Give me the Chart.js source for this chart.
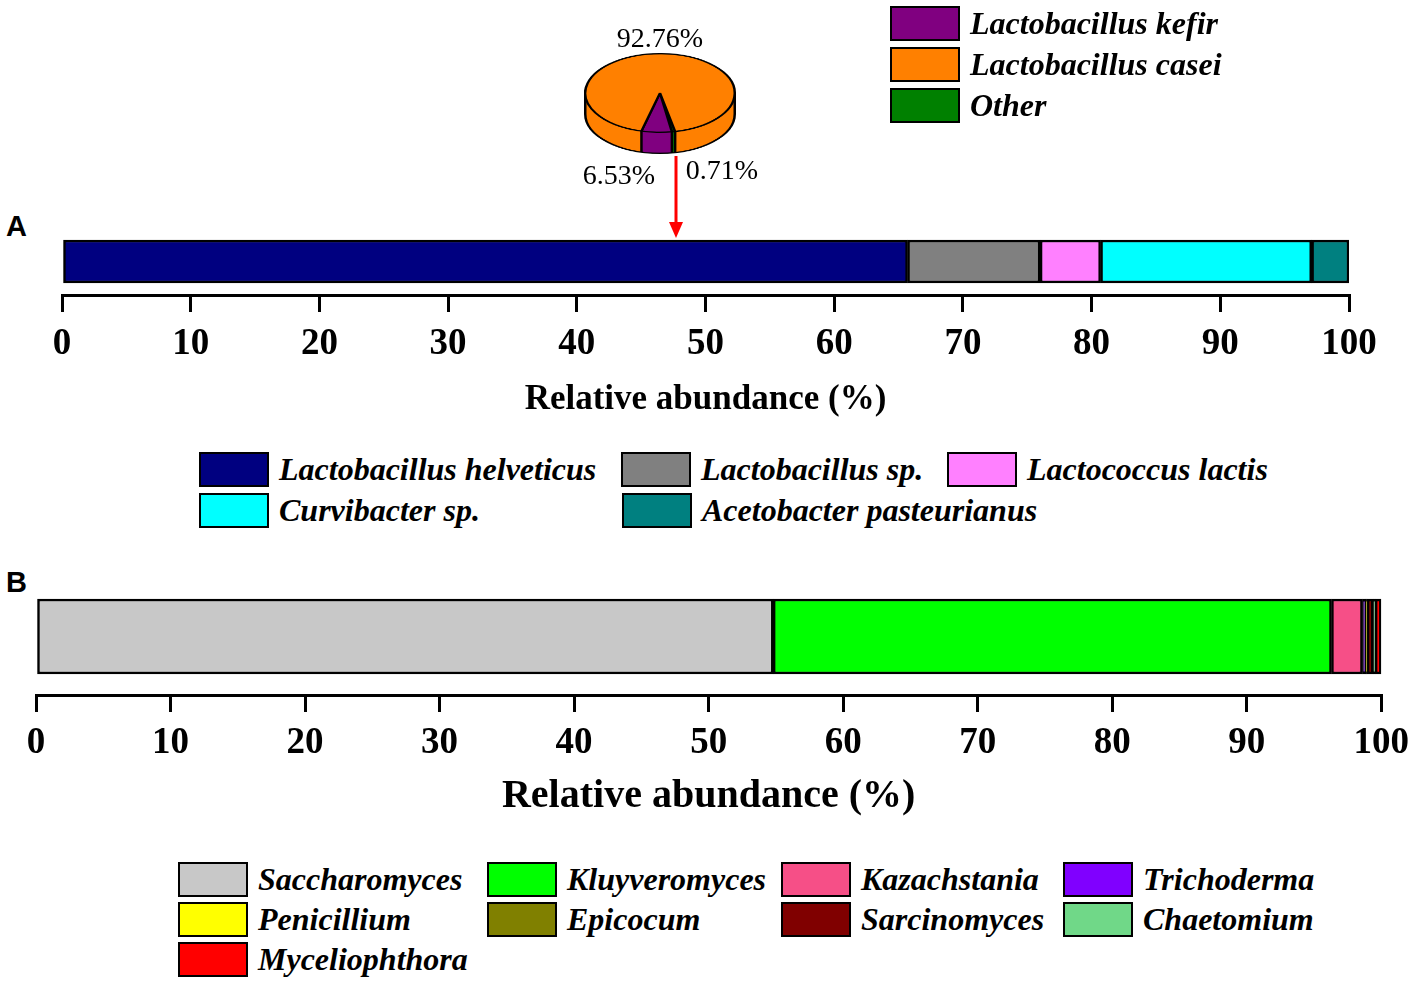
<!DOCTYPE html>
<html>
<head>
<meta charset="utf-8">
<script src="https://cdn.jsdelivr.net/npm/chart.js@4.4.0/dist/chart.umd.min.js"></script>
<style>
  body { margin: 0; background: #fff; }
  #page { position: relative; width: 1418px; height: 984px; overflow: hidden; background: #fff; }
  .box { position: absolute; }
  .panel { position: absolute; font: bold 29px 'Liberation Sans', Arial, sans-serif; }
  .pct { position: absolute; font: 28px 'Liberation Serif', 'Times New Roman', serif; transform: translate(-50%, -50%); white-space: nowrap; }
  .key { position: absolute; width: 66px; height: 31px; border: 2px solid #000; }
  .keytext { position: absolute; font: italic bold 32px 'Liberation Serif', 'Times New Roman', serif; line-height: 35px; white-space: nowrap; }
</style>
</head>
<body>
<div id="page">
  <div class="panel" style="left:6px; top:210px;">A</div>
  <div class="panel" style="left:6px; top:566px;">B</div>
  <div class="box" style="left:0; top:200px; width:1418px; height:225px;"><canvas id="chartA"></canvas></div>
  <div class="box" style="left:0; top:560px; width:1418px; height:265px;"><canvas id="chartB"></canvas></div>
  <div class="box" id="pieBox" style="left:584px; top:53px; width:152px; height:192px; transform: scaleY(0.526); transform-origin: 0 0;"><canvas id="pie"></canvas></div>
  <svg class="box" style="left:0; top:0;" width="1418" height="260">
    <line x1="676" y1="156" x2="676" y2="224" stroke="#ff0000" stroke-width="3"/>
    <polygon points="669,222 683,222 676,238" fill="#ff0000"/>
  </svg>
  <div id="legends"></div>
</div>
<script>
// bacteria (panel A)
const bacteriaLabels = ['Lactobacillus helveticus', 'Lactobacillus sp.', 'Lactococcus lactis', 'Curvibacter sp.', 'Acetobacter pasteurianus'];
const bacteriaValues = [65.7, 10.3, 4.7, 16.4, 2.9];
const bacteriaColors = ['#000080', '#808080', '#ff80ff', '#00ffff', '#008080'];

// fungi (panel B)
const fungiLabels = ['Saccharomyces', 'Kluyveromyces', 'Kazachstania', 'Trichoderma', 'Penicillium', 'Epicocum', 'Sarcinomyces', 'Chaetomium', 'Myceliophthora'];
const fungiValues = [54.8, 41.5, 2.3, 0.25, 0.05, 0.05, 0.45, 0.15, 0.45];
const fungiColors = ['#c8c8c8', '#00ff00', '#f64f87', '#8000ff', '#ffff00', '#808000', '#800000', '#70d888', '#ff0000'];

// Lactobacillus sp. breakdown (pie)
const pieLabels = ['Other', 'Lactobacillus kefir', 'Lactobacillus casei'];
const pieValues = [0.71, 6.53, 92.76];
const pieColors = ['#008000', '#800080', '#ff8000'];
const pieLegendOrder = ['Lactobacillus kefir', 'Lactobacillus casei', 'Other'];

const axisMin = 0;
const axisMax = 100;
const axisStep = 10;
const axisTitle = 'Relative abundance (%)';

const serif = "'Liberation Serif', 'Times New Roman', serif";
Chart.defaults.font.family = serif;
Chart.defaults.color = '#000';

// one stacked horizontal bar
function drawBar(id, labels, values, colors, opts) {
    const datasets = labels.map((name, i) => ({
        label: name,
        data: [values[i]],
        backgroundColor: colors[i],
        borderColor: '#000',
        borderWidth: 2.5,
        borderSkipped: false,
        barThickness: opts.thickness
    }));
    return new Chart(document.getElementById(id), {
        type: 'bar',
        data: { labels: [''], datasets: datasets },
        options: {
            indexAxis: 'y',
            responsive: true,
            maintainAspectRatio: false,
            animation: false,
            events: [],
            layout: { padding: opts.padding },
            plugins: { legend: { display: false }, tooltip: { enabled: false } },
            scales: {
                x: {
                    stacked: true,
                    min: axisMin,
                    max: axisMax,
                    afterFit: (scale) => { scale.height = opts.axisHeight; },
                    ticks: { stepSize: axisStep, padding: opts.tickPad, font: { size: 37, weight: 'bold' }, color: '#000', maxRotation: 0 },
                    grid: { drawOnChartArea: false, tickLength: 17, lineWidth: 3, color: '#000' },
                    border: { display: true, width: 3, color: '#000' },
                    title: { display: true, text: axisTitle, font: { size: opts.titleSize, weight: 'bold' }, color: '#000', padding: { top: 0, bottom: 4 } }
                },
                y: { stacked: true, display: false }
            }
        }
    });
}

drawBar('chartA', bacteriaLabels, bacteriaValues, bacteriaColors,
    { thickness: 43, padding: { left: 62, right: 69, top: 28, bottom: 0 }, axisHeight: 130, tickPad: 10, titleSize: 35 });
drawBar('chartB', fungiLabels, fungiValues, fungiColors,
    { thickness: 75, padding: { left: 36, right: 35, top: 18, bottom: 0 }, axisHeight: 130, tickPad: 9, titleSize: 40 });

// side wall of the tilted pie
const depthPlugin = {
    id: 'depth',
    beforeDatasetsDraw(chart, args, opts) {
        const ctx = chart.ctx;
        const arcs = chart.getDatasetMeta(0).data;
        const depth = opts.depth;
        ctx.save();
        for (let d = depth; d >= 0; d--) {
            arcs.forEach((arc) => {
                const p = arc.getProps(['x', 'y', 'startAngle', 'endAngle', 'outerRadius']);
                ctx.beginPath();
                ctx.moveTo(p.x, p.y + d);
                ctx.arc(p.x, p.y + d, p.outerRadius, p.startAngle, p.endAngle);
                ctx.closePath();
                ctx.fillStyle = arc.options.backgroundColor;
                ctx.fill();
            });
        }
        const p0 = arcs[0].getProps(['x', 'y', 'outerRadius']);
        ctx.strokeStyle = '#000';
        ctx.lineWidth = 2.5;
        ctx.beginPath();
        ctx.arc(p0.x, p0.y + depth, p0.outerRadius, 0, Math.PI);
        ctx.stroke();
        ctx.beginPath();
        ctx.moveTo(p0.x - p0.outerRadius, p0.y); ctx.lineTo(p0.x - p0.outerRadius, p0.y + depth);
        ctx.moveTo(p0.x + p0.outerRadius, p0.y); ctx.lineTo(p0.x + p0.outerRadius, p0.y + depth);
        arcs.forEach((arc) => {
            const p = arc.getProps(['x', 'y', 'startAngle', 'outerRadius']);
            const a = ((p.startAngle % (2 * Math.PI)) + 2 * Math.PI) % (2 * Math.PI);
            if (a > 0 && a < Math.PI) {
                const ex = p.x + p.outerRadius * Math.cos(a);
                const ey = p.y + p.outerRadius * Math.sin(a);
                ctx.moveTo(ex, ey); ctx.lineTo(ex, ey + depth);
            }
        });
        ctx.stroke();
        ctx.restore();
    }
};

new Chart(document.getElementById('pie'), {
    type: 'pie',
    data: {
        labels: pieLabels,
        datasets: [{ data: pieValues, backgroundColor: pieColors, borderColor: '#000', borderWidth: 2.5 }]
    },
    options: {
        responsive: true,
        maintainAspectRatio: false,
        animation: false,
        events: [],
        rotation: 168.3,
        layout: { padding: { top: 0, left: 0, right: 0, bottom: 40 } },
        plugins: { legend: { display: false }, tooltip: { enabled: false }, depth: { depth: 40 } }
    },
    plugins: [depthPlugin]
});

// percentage labels of the pie
const pctSpots = { 'Lactobacillus casei': [660, 38], 'Lactobacillus kefir': [619, 175], 'Other': [722, 170] };
const page = document.getElementById('page');
pieLabels.forEach((name, i) => {
    const el = document.createElement('div');
    el.className = 'pct';
    el.textContent = pieValues[i].toFixed(2) + '%';
    el.style.left = pctSpots[name][0] + 'px';
    el.style.top = pctSpots[name][1] + 'px';
    page.appendChild(el);
});

// legends
function addLegend(names, colorOf, cols, rows, perRow) {
    names.forEach((name, i) => {
        const c = i % perRow, r = Math.floor(i / perRow);
        const key = document.createElement('div');
        key.className = 'key';
        key.style.left = cols[c] + 'px';
        key.style.top = rows[r] + 'px';
        key.style.background = colorOf(name);
        page.appendChild(key);
        const t = document.createElement('div');
        t.className = 'keytext';
        t.textContent = name;
        t.style.left = (cols[c] + 80) + 'px';
        t.style.top = rows[r] + 'px';
        page.appendChild(t);
    });
}
addLegend(pieLegendOrder, (n) => pieColors[pieLabels.indexOf(n)], [890], [6, 47, 88], 1);
addLegend(bacteriaLabels.slice(0, 3), (n) => bacteriaColors[bacteriaLabels.indexOf(n)], [199, 621, 947], [452], 3);
addLegend(bacteriaLabels.slice(3), (n) => bacteriaColors[bacteriaLabels.indexOf(n)], [199, 622], [493], 2);
addLegend(fungiLabels, (n) => fungiColors[fungiLabels.indexOf(n)], [178, 487, 781, 1063], [862, 902, 942], 4);
</script>
</body>
</html>
